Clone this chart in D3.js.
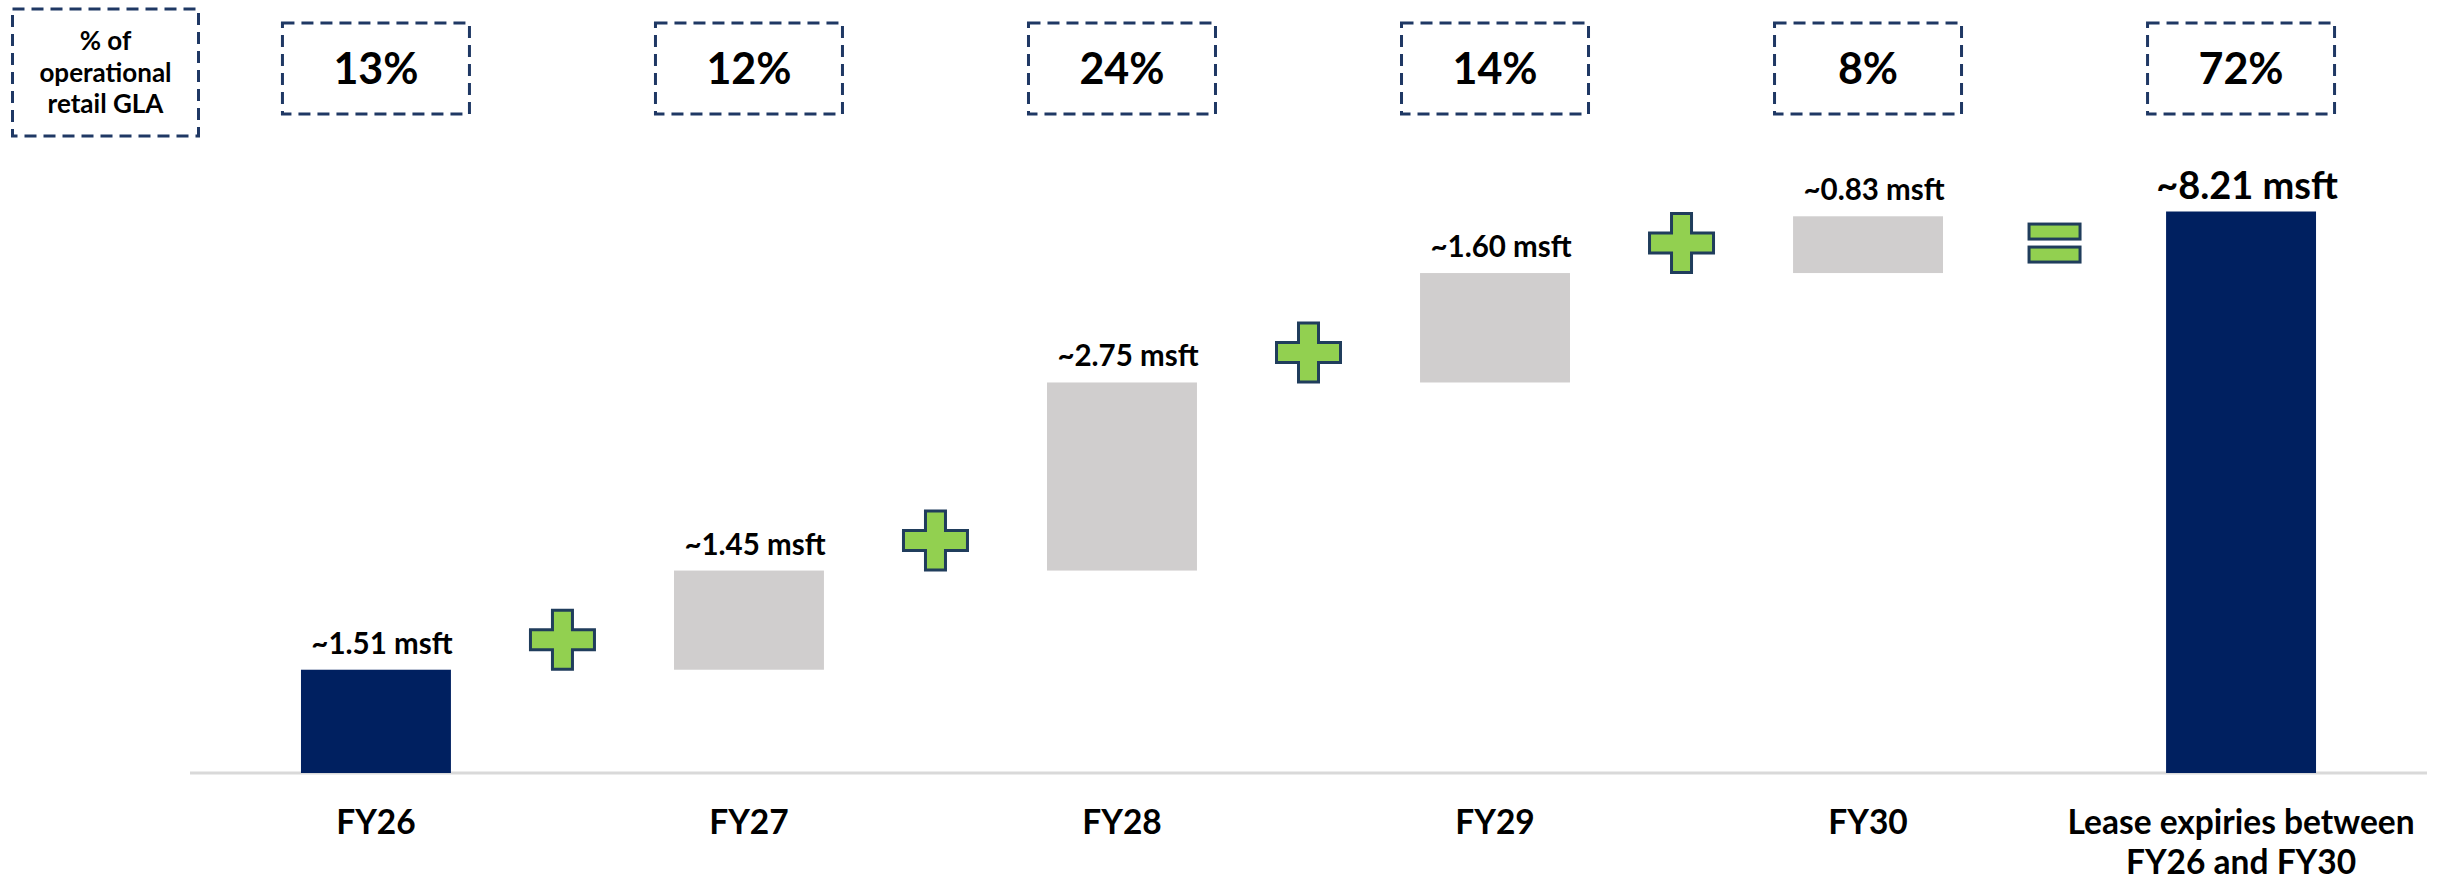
<!DOCTYPE html>
<html>
<head>
<meta charset="utf-8">
<script src="https://cdn.jsdelivr.net/npm/d3@7/dist/d3.min.js"></script>
<style>
  html, body { margin: 0; padding: 0; background: #ffffff; }
  svg { display: block; }
  text { font-family: Lato, "Open Sans", "DejaVu Sans", sans-serif; font-weight: 700; fill: #000; }
</style>
</head>
<body>
<svg id="chart" width="2451" height="883"></svg>
<script>
// ---- data ----
const categories = ["FY26", "FY27", "FY28", "FY29", "FY30", "Total"];
const categoryLabelLines = [["FY26"], ["FY27"], ["FY28"], ["FY29"], ["FY30"], ["Lease expiries between", "FY26 and FY30"]];
const expiries = [1.51, 1.45, 2.75, 1.60, 0.83];   // msft per year
const totalExpiry = 8.21;                          // msft FY26-FY30
const glaShares = ["13%", "12%", "24%", "14%", "8%", "72%"];
const rowHeaderLines = ["% of", "operational", "retail GLA"];
const operators = ["+", "+", "+", "+", "="];

// ---- layout ----
const baseY = 773, topY = 211.5;
const svg = d3.select("#chart");

const x = d3.scaleBand().domain(categories).range([190, 2427]).paddingInner(0.598).paddingOuter(0.2975);
const y = d3.scaleLinear().domain([0, totalExpiry]).range([baseY, topY]);
const bw = x.bandwidth();

// waterfall segments
let cum = 0;
const bars = expiries.map((v, i) => {
  const s = { cat: categories[i], start: cum, end: cum + v, value: v, kind: i === 0 ? "base" : "step" };
  cum += v;
  return s;
});
bars.push({ cat: categories[5], start: 0, end: totalExpiry, value: totalExpiry, kind: "total" });

const colors = { base: "#002060", step: "#d0cece", total: "#002060" };

// axis line
svg.append("line")
  .attr("x1", x.range()[0]).attr("x2", x.range()[1])
  .attr("y1", baseY).attr("y2", baseY)
  .attr("stroke", "#d9d9d9").attr("stroke-width", 3);

// bars
svg.append("g").selectAll("rect").data(bars).join("rect")
  .attr("x", d => x(d.cat))
  .attr("y", d => y(d.end))
  .attr("width", bw)
  .attr("height", d => y(d.start) - y(d.end))
  .attr("fill", d => colors[d.kind]);

// value labels
svg.append("g").selectAll("text").data(bars).join("text")
  .attr("x", d => x(d.cat) + bw / 2 + 6)
  .attr("y", d => y(d.end) - (d.kind === "total" ? 13 : 16))
  .attr("text-anchor", "middle")
  .attr("font-size", d => d.kind === "total" ? 38 : 29.5)
  .text(d => "~" + d.value.toFixed(2) + " msft");

// category labels
const cl = svg.append("g").selectAll("text").data(categories).join("text")
  .attr("x", d => x(d) + bw / 2)
  .attr("y", 834)
  .attr("text-anchor", "middle")
  .attr("font-size", 33.5);
cl.each(function(d, i) {
  const t = d3.select(this);
  categoryLabelLines[i].forEach((line, k) => {
    t.append("tspan").attr("x", x(d) + bw / 2).attr("dy", k === 0 ? 0 : 40).text(line);
  });
});

// GLA share boxes
const boxW = 187, boxH = 91, boxTop = 23;
const dash = { stroke: "#1f3864", width: 3, pattern: "12,7" };
const boxes = svg.append("g").selectAll("g").data(categories).join("g");
boxes.append("rect")
  .attr("x", d => x(d) + bw / 2 - boxW / 2)
  .attr("y", boxTop).attr("width", boxW).attr("height", boxH)
  .attr("fill", "none").attr("stroke", dash.stroke)
  .attr("stroke-width", dash.width).attr("stroke-dasharray", dash.pattern);
boxes.append("text")
  .attr("x", d => x(d) + bw / 2)
  .attr("y", boxTop + boxH / 2 + 15)
  .attr("text-anchor", "middle")
  .attr("font-size", 43)
  .text((d, i) => glaShares[i]);

// row header box
svg.append("rect")
  .attr("x", 12.5).attr("y", 9).attr("width", 186).attr("height", 127)
  .attr("fill", "none").attr("stroke", dash.stroke)
  .attr("stroke-width", dash.width).attr("stroke-dasharray", dash.pattern);
svg.append("g").selectAll("text").data(rowHeaderLines).join("text")
  .attr("x", 105.5)
  .attr("y", (d, i) => 50 + i * 31.5)
  .attr("text-anchor", "middle")
  .attr("font-size", 26)
  .text(d => d);

// operator symbols (+ / =)
const symG = svg.append("g");
operators.forEach((op, j) => {
  const cx = (x(categories[j]) + bw + x(categories[j + 1])) / 2;
  const level = op === "+" ? bars[j].end : bars[j].start;
  const cy = y(level) - 30;
  const style = s => s.attr("fill", "#92d050").attr("stroke", "#203d5c").attr("stroke-width", 3);
  if (op === "+") {
    const hw = 32, hh = 29.5, a = 10;
    const p = [
      [-a, -hh], [a, -hh], [a, -a], [hw, -a], [hw, a], [a, a],
      [a, hh], [-a, hh], [-a, a], [-hw, a], [-hw, -a], [-a, -a]
    ];
    symG.append("path")
      .attr("d", "M" + p.map(q => (cx + q[0]) + "," + (cy + q[1])).join("L") + "Z")
      .call(style);
  } else {
    const ew = 51, eh = 15, gap = 8;
    [-1, 1].forEach(sgn => {
      symG.append("rect")
        .attr("x", cx - ew / 2)
        .attr("y", sgn < 0 ? cy - gap / 2 - eh : cy + gap / 2)
        .attr("width", ew).attr("height", eh)
        .call(style);
    });
  }
});
</script>
</body>
</html>
